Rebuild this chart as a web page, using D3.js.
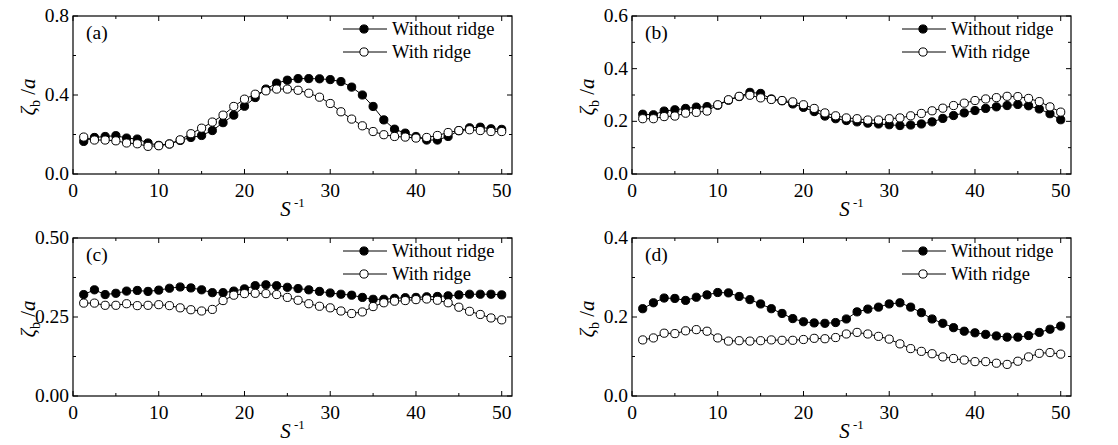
<!DOCTYPE html>
<html>
<head>
<meta charset="utf-8">
<script src="https://cdn.jsdelivr.net/npm/d3@7"></script>
<style>
  body { margin: 0; background: #fff; }
</style>
</head>
<body>
<svg id="chart" width="1118" height="445"></svg>
<script>
// S^-1 sample positions (shared by all panels)
const sInv = [1.25, 2.5, 3.75, 5, 6.25, 7.5, 8.75, 10, 11.25, 12.5, 13.75, 15, 16.25, 17.5, 18.75, 20,
  21.25, 22.5, 23.75, 25, 26.25, 27.5, 28.75, 30, 31.25, 32.5, 33.75, 35, 36.25, 37.5, 38.75, 40,
  41.25, 42.5, 43.75, 45, 46.25, 47.5, 48.75, 50];

const xTicks = [0, 10, 20, 30, 40, 50];
const seriesNames = ['Without ridge', 'With ridge'];
const serif = 'Liberation Serif';

// panel (a)
const aWithout = [0.165, 0.185, 0.19, 0.194, 0.182, 0.177, 0.157, 0.145, 0.152, 0.17, 0.185, 0.195, 0.22, 0.26, 0.298, 0.343,
  0.387, 0.43, 0.46, 0.475, 0.483, 0.483, 0.482, 0.478, 0.468, 0.44, 0.40, 0.342, 0.274, 0.227, 0.207, 0.19,
  0.172, 0.172, 0.19, 0.219, 0.234, 0.237, 0.229, 0.226];
const aWith = [0.187, 0.172, 0.172, 0.168, 0.157, 0.153, 0.14, 0.143, 0.152, 0.173, 0.204, 0.232, 0.263, 0.298, 0.342, 0.379,
  0.404, 0.421, 0.43, 0.43, 0.424, 0.409, 0.389, 0.357, 0.315, 0.278, 0.244, 0.215, 0.199, 0.19, 0.187, 0.182,
  0.185, 0.195, 0.21, 0.22, 0.224, 0.22, 0.215, 0.215];
const aTicks = ['0.0', '0.4', '0.8'];

// panel (b)
const bWithout = [0.227, 0.225, 0.239, 0.244, 0.249, 0.254, 0.256, 0.261, 0.28, 0.294, 0.31, 0.306, 0.285, 0.278, 0.266, 0.253,
  0.237, 0.22, 0.21, 0.203, 0.198, 0.193, 0.19, 0.187, 0.184, 0.186, 0.19, 0.198, 0.211, 0.222, 0.232, 0.241,
  0.249, 0.255, 0.26, 0.264, 0.259, 0.247, 0.229, 0.206];
const bWith = [0.21, 0.21, 0.218, 0.22, 0.231, 0.234, 0.239, 0.263, 0.282, 0.295, 0.299, 0.289, 0.283, 0.279, 0.274, 0.263,
  0.249, 0.232, 0.221, 0.213, 0.21, 0.205, 0.205, 0.21, 0.213, 0.221, 0.23, 0.24, 0.25, 0.26, 0.269, 0.279,
  0.285, 0.29, 0.295, 0.294, 0.287, 0.275, 0.255, 0.235];
const bTicks = ['0.0', '0.2', '0.4', '0.6'];

// panel (c)
const cWithout = [0.321, 0.336, 0.321, 0.325, 0.332, 0.334, 0.331, 0.335, 0.341, 0.345, 0.342, 0.336, 0.327, 0.327, 0.332, 0.339,
  0.349, 0.352, 0.349, 0.344, 0.34, 0.336, 0.331, 0.326, 0.322, 0.319, 0.312, 0.306, 0.306, 0.309, 0.311, 0.312,
  0.314, 0.315, 0.317, 0.32, 0.322, 0.322, 0.322, 0.32];
const cWith = [0.294, 0.294, 0.287, 0.287, 0.292, 0.286, 0.287, 0.289, 0.286, 0.279, 0.273, 0.269, 0.274, 0.302, 0.319, 0.324,
  0.325, 0.324, 0.321, 0.312, 0.303, 0.292, 0.284, 0.279, 0.269, 0.261, 0.266, 0.283, 0.295, 0.30, 0.302, 0.305,
  0.307, 0.303, 0.295, 0.281, 0.268, 0.258, 0.247, 0.241];
const cTicks = ['0.00', '0.25', '0.50'];

// panel (d)
const dWithout = [0.221, 0.236, 0.248, 0.247, 0.242, 0.25, 0.256, 0.262, 0.261, 0.252, 0.244, 0.233, 0.221, 0.209, 0.196, 0.188,
  0.185, 0.184, 0.186, 0.195, 0.213, 0.22, 0.225, 0.233, 0.236, 0.225, 0.211, 0.195, 0.184, 0.173, 0.164, 0.16,
  0.156, 0.152, 0.149, 0.149, 0.153, 0.161, 0.169, 0.177];
const dWith = [0.142, 0.147, 0.159, 0.158, 0.165, 0.168, 0.164, 0.147, 0.139, 0.14, 0.139, 0.14, 0.142, 0.141, 0.141, 0.143,
  0.146, 0.145, 0.148, 0.157, 0.161, 0.157, 0.151, 0.144, 0.132, 0.12, 0.113, 0.107, 0.099, 0.095, 0.091, 0.087,
  0.087, 0.083, 0.08, 0.088, 0.099, 0.108, 0.11, 0.106];
const dTicks = ['0.0', '0.2', '0.4'];

const panels = [
  { tag: '(a)', left: 73, top: 16, yMax: 0.8, ticks: aTicks, minor: [0.2, 0.6], without: aWithout, with: aWith },
  { tag: '(b)', left: 632, top: 16, yMax: 0.6, ticks: bTicks, minor: [0.1, 0.3, 0.5], without: bWithout, with: bWith },
  { tag: '(c)', left: 73, top: 238, yMax: 0.5, ticks: cTicks, minor: [0.125, 0.375], without: cWithout, with: cWith },
  { tag: '(d)', left: 632, top: 238, yMax: 0.4, ticks: dTicks, minor: [0.1, 0.3], without: dWithout, with: dWith }
];

const pw = 439, ph = 158;
const r = 4.1;
const svg = d3.select('#chart');

function drawPanel(p) {
  const g = svg.append('g').attr('transform', `translate(${p.left},${p.top})`);
  const x = d3.scaleLinear().domain([0, 51.2]).range([0, pw]);
  const y = d3.scaleLinear().domain([0, p.yMax]).range([ph, 0]);

  // inward ticks on all four sides
  const xMinor = xTicks.slice(0, -1).map(t => t + 5);
  const yMajor = p.ticks.map(Number);
  const tickLines = [];
  xTicks.forEach(t => { tickLines.push([x(t), ph, x(t), ph - 5]); tickLines.push([x(t), 0, x(t), 5]); });
  xMinor.forEach(t => { tickLines.push([x(t), ph, x(t), ph - 3]); tickLines.push([x(t), 0, x(t), 3]); });
  yMajor.forEach(t => { tickLines.push([0, y(t), 5, y(t)]); tickLines.push([pw, y(t), pw - 5, y(t)]); });
  p.minor.forEach(t => { tickLines.push([0, y(t), 3, y(t)]); tickLines.push([pw, y(t), pw - 3, y(t)]); });
  g.selectAll('line.tick').data(tickLines).enter().append('line')
    .attr('class', 'tick')
    .attr('x1', d => d[0]).attr('y1', d => d[1]).attr('x2', d => d[2]).attr('y2', d => d[3])
    .attr('stroke', '#000').attr('stroke-width', 1);

  g.append('rect').attr('width', pw).attr('height', ph)
    .attr('fill', 'none').attr('stroke', '#000').attr('stroke-width', 1.2);

  // tick labels
  g.selectAll('text.xt').data(xTicks).enter().append('text')
    .attr('font-family', serif)
    .attr('x', d => x(d)).attr('y', ph + 23)
    .attr('text-anchor', 'middle').attr('font-size', 19.5).text(d => d);
  g.selectAll('text.yt').data(p.ticks).enter().append('text')
    .attr('font-family', serif)
    .attr('x', -4).attr('y', d => y(+d) + 6)
    .attr('text-anchor', 'end').attr('font-size', 19.5).text(d => d);

  // axis titles
  const xl = g.append('text').attr('font-family', serif).attr('x', pw / 2).attr('y', ph + 42)
    .attr('text-anchor', 'middle').attr('font-size', 21);
  xl.append('tspan').attr('font-style', 'italic').text('S');
  xl.append('tspan').attr('font-size', 13).attr('dy', -9).text(' -1');

  const yl = g.append('text').attr('font-family', serif)
    .attr('transform', `translate(-38,${ph / 2 + 2}) rotate(-90)`)
    .attr('text-anchor', 'middle').attr('font-size', 21);
  yl.append('tspan').attr('font-style', 'italic').text('ζ');
  yl.append('tspan').attr('font-size', 14).attr('dy', 5).text('b');
  yl.append('tspan').attr('dy', -5).text(' /');
  yl.append('tspan').attr('font-style', 'italic').text('a');

  g.append('text').attr('font-family', serif).attr('x', 13).attr('y', 23).attr('font-size', 19.5).text(p.tag);

  // series
  const line = d3.line().x((d, i) => x(sInv[i])).y(d => y(d));
  [p.without, p.with].forEach((vals, k) => {
    g.append('path').datum(vals).attr('d', line)
      .attr('fill', 'none').attr('stroke', '#000').attr('stroke-width', 1);
    g.selectAll(`circle.s${k}`).data(vals).enter().append('circle')
      .attr('class', `s${k}`)
      .attr('cx', (d, i) => x(sInv[i])).attr('cy', d => y(d)).attr('r', r)
      .attr('fill', k === 0 ? '#000' : '#fff').attr('stroke', '#000').attr('stroke-width', 1);
  });

  // legend
  seriesNames.forEach((name, k) => {
    const ly = 13 + k * 23;
    g.append('line').attr('x1', 270).attr('x2', 314).attr('y1', ly).attr('y2', ly)
      .attr('stroke', '#000').attr('stroke-width', 1);
    g.append('circle').attr('cx', 291).attr('cy', ly).attr('r', r)
      .attr('fill', k === 0 ? '#000' : '#fff').attr('stroke', '#000');
    g.append('text').attr('font-family', serif)
      .attr('x', 319).attr('y', ly + 6).attr('font-size', 18.5).text(name);
  });
}

panels.forEach(drawPanel);
</script>
</body>
</html>
